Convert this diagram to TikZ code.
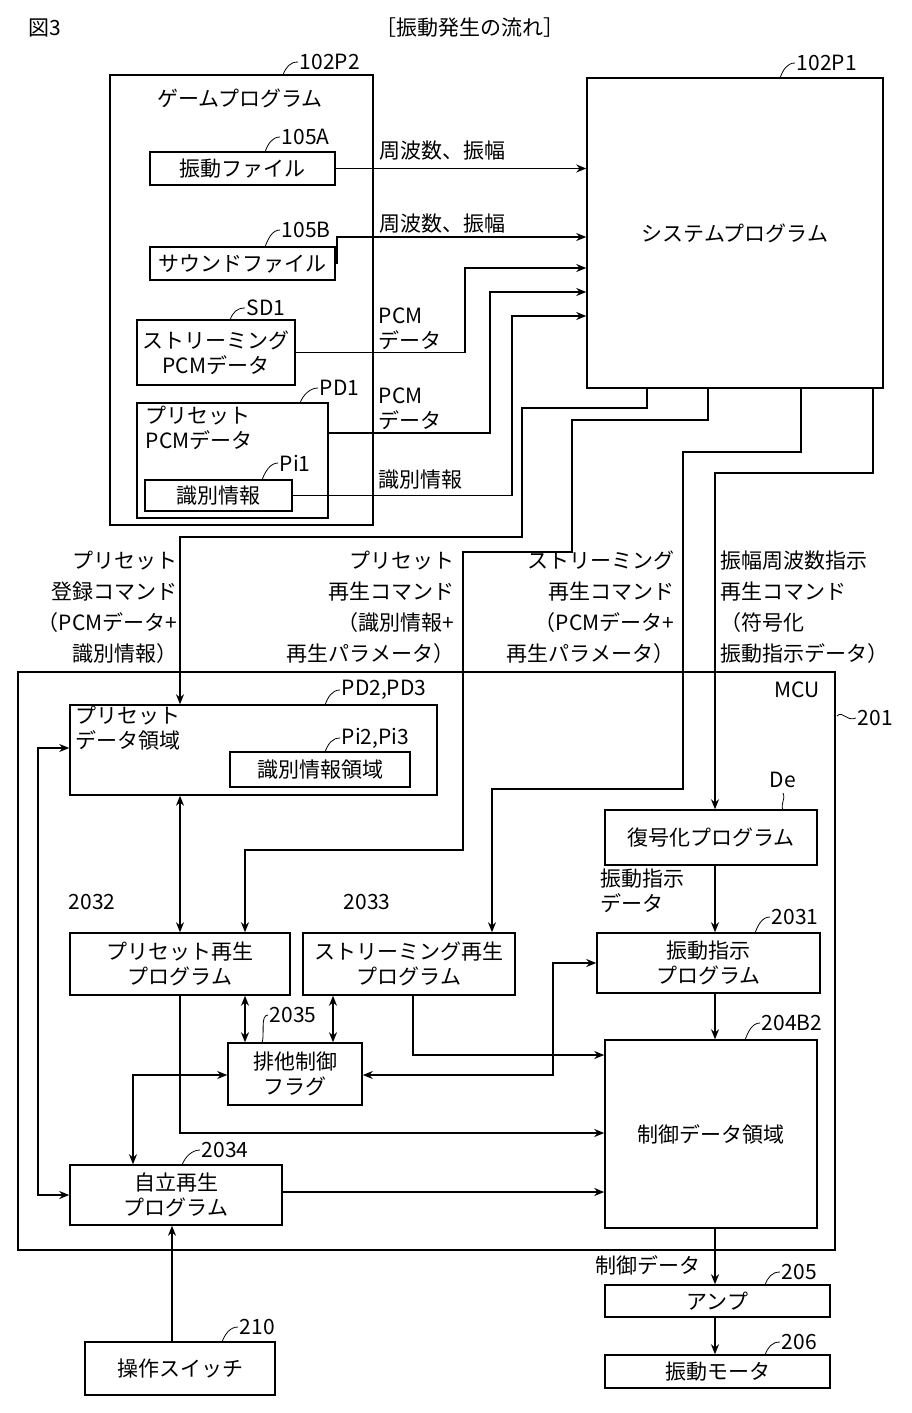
\documentclass[tikz,border=0pt]{standalone}
\usepackage{fontspec}
\setmainfont{Noto Sans CJK JP}
\usetikzlibrary{arrows.meta,calc}
\begin{document}
\begin{tikzpicture}[x=1pt,y=-1pt, font=\fontsize{21}{25}\selectfont, line width=1.5pt,
  >={Stealth[length=10pt,width=8pt]},
  box/.style={draw,inner sep=0,align=center},
  lead/.style={line width=0.8pt},
  cmd/.style={font=\fontsize{21}{31}\selectfont,inner sep=0}]
\useasboundingbox (0,0) rectangle (911,1413);
\newcommand\bx[6]{\node[box,minimum width={(#4-#2)*1pt},minimum height={(#5-#3)*1pt}] (#1) at ({(#2+#4)/2},{(#3+#5)/2}) {#6};}
\newcommand\ld[5]{\draw[lead] (#1,#2) .. controls +(3,-8) and +(-8,0) .. (#3,#4); \node[anchor=west,inner sep=1pt] at (#3,#4) {#5};}

\node at (45,28) {図3};
\node at (470,28) {［振動発生の流れ］};

% game program
\bx{game}{110}{75}{373}{525}{}
\node at (240,98) {ゲームプログラム};
\ld{283}{75}{298}{62}{102P2}
\bx{vib}{150}{152}{335}{185}{振動ファイル}
\ld{265}{152}{280}{137}{105A}
\bx{snd}{150}{247}{335}{280}{サウンドファイル}
\ld{265}{247}{280}{230}{105B}
\bx{spcm}{137}{320}{295}{385}{ストリーミング\\PCMデータ}
\ld{230}{320}{245}{308}{SD1}
\bx{ppcm}{137}{403}{328}{518}{}
\node[anchor=north west,align=left,inner sep=0] at (145,405) {プリセット\\PCMデータ};
\ld{300}{403}{318}{388}{PD1}
\bx{id1}{145}{480}{292}{511}{識別情報}
\ld{262}{480}{278}{463}{Pi1}

\bx{sys}{587}{78}{883}{388}{システムプログラム}
\ld{780}{78}{795}{63}{102P1}

\draw[->] (vib.east) -- (vib.east -| sys.west);
\node[anchor=south west] at (375,164) {周波数、振幅};
\draw[->] (snd.east) -- (337,263.5) -- (337,237) -- (sys.west |- 0,237);
\node[anchor=south west] at (375,237) {周波数、振幅};
\draw[->] (spcm.east) -- (465,352.5) -- (465,268) -- (sys.west |- 0,268);
\node[anchor=south west,align=left,inner sep=0] at (378,350) {PCM\\データ};
\draw[->] (ppcm.east |- 0,433) -- (490,433) -- (490,292) -- (sys.west |- 0,292);
\node[anchor=south west,align=left,inner sep=0] at (378,430) {PCM\\データ};
\draw[->] (id1.east) -- (512,495.5) -- (512,316) -- (sys.west |- 0,316);
\node[anchor=south west,inner sep=0] at (378,490) {識別情報};

% MCU
\bx{mcu}{18}{672}{835}{1250}{}
\node at (797,690) {MCU};
\draw[lead] (837,716) .. controls (843,710) and (846,722) .. (856,718);
\node[anchor=west,inner sep=1pt] at (856,718) {201};

\bx{pda}{70}{705}{437}{795}{}
\node[anchor=north west,align=left,inner sep=0] at (75,705) {プリセット\\データ領域};
\ld{325}{705}{340}{690}{PD2,PD3}
\bx{id2}{230}{752}{410}{787}{識別情報領域}
\ld{325}{752}{340}{738}{Pi2,Pi3}
\bx{dec}{605}{810}{817}{865}{復号化プログラム}
\draw[lead] (783,810) .. controls (780,803) and (786,800) .. (783,793);
\node at (783,780) {De};
\bx{pp}{70}{933}{290}{995}{プリセット再生\\プログラム}
\node at (92,902) {2032};
\bx{sp}{303}{933}{515}{995}{ストリーミング再生\\プログラム}
\node at (367,902) {2033};
\bx{vp}{597}{933}{820}{993}{振動指示\\プログラム}
\ld{755}{933}{770}{917}{2031}
\bx{flag}{228}{1043}{362}{1105}{排他制御\\フラグ}
\ld{262}{1043}{268}{1015}{2035}
\bx{cd}{605}{1040}{817}{1228}{制御データ領域}
\ld{745}{1040}{760}{1023}{204B2}
\bx{ap}{70}{1165}{282}{1225}{自立再生\\プログラム}
\ld{182}{1165}{200}{1150}{2034}
\bx{amp}{605}{1285}{830}{1317}{アンプ}
\ld{765}{1285}{780}{1272}{205}
\bx{mot}{605}{1355}{830}{1388}{振動モータ}
\ld{765}{1355}{780}{1342}{206}
\bx{sw}{85}{1342}{275}{1395}{操作スイッチ}
\ld{222}{1342}{238}{1327}{210}

% commands
\draw[->] (sys.south -| 647,0) -- (647,408) -- (522,408) -- (522,537) -- (180,537) -- (pda.north -| 180,0);
\draw[->] (sys.south -| 708,0) -- (708,420) -- (572,420) -- (572,552) -- (463,552) -- (463,850) -- (245,850) -- (pp.north -| 245,0);
\draw[->] (sys.south -| 801,0) -- (801,452) -- (683,452) -- (683,789) -- (492,789) -- (sp.north -| 492,0);
\draw[->] (sys.south -| 873,0) -- (873,473) -- (715,473) -- (dec.north -| 715,0);

\node[cmd,anchor=north east,align=right] at (178,550) {プリセット\\登録コマンド\\（PCMデータ+\\識別情報）};
\node[cmd,anchor=north east,align=right] at (455,550) {プリセット\\再生コマンド\\（識別情報+\\再生パラメータ）};
\node[cmd,anchor=north east,align=right] at (675,550) {ストリーミング\\再生コマンド\\（PCMデータ+\\再生パラメータ）};
\node[cmd,anchor=north west,align=left] at (720,550) {振幅周波数指示\\再生コマンド\\（符号化\\振動指示データ）};

% internal
\draw[<->] (pda.south -| 180,0) -- (pp.north -| 180,0);
\draw[<->] (pda.west |- 0,748) -- (38,748) -- (38,1195) -- (ap.west |- 0,1195);
\draw[<->,line width=2.5pt] (pp.south -| 245,0) -- (flag.north -| 245,0);
\draw[<->,line width=2.5pt] (sp.south -| 333,0) -- (flag.north -| 333,0);
\draw[<->] (flag.east |- 0,1075) -- (553,1075) -- (553,963) -- (vp.west |- 0,963);
\draw[<->] (flag.west |- 0,1075) -- (133,1075) -- (ap.north -| 133,0);
\draw[->] (sp.south -| 413,0) -- (413,1055) -- (cd.west |- 0,1055);
\draw[->] (pp.south -| 180,0) -- (180,1133) -- (cd.west |- 0,1133);
\draw[->] (ap.east |- 0,1192) -- (cd.west |- 0,1192);
\draw[->] (dec.south -| 715,0) -- (vp.north -| 715,0);
\node[anchor=north west,align=left,inner sep=0] at (600,868) {振動指示\\データ};
\draw[->] (vp.south -| 715,0) -- (cd.north -| 715,0);
\draw[->] (cd.south -| 715,0) -- (amp.north -| 715,0);
\node[anchor=east] at (705,1265) {制御データ};
\draw[->] (amp.south -| 715,0) -- (mot.north -| 715,0);
\draw[->,line width=2.5pt] (sw.north -| 172,0) -- (ap.south -| 172,0);
\end{tikzpicture}
\end{document}
